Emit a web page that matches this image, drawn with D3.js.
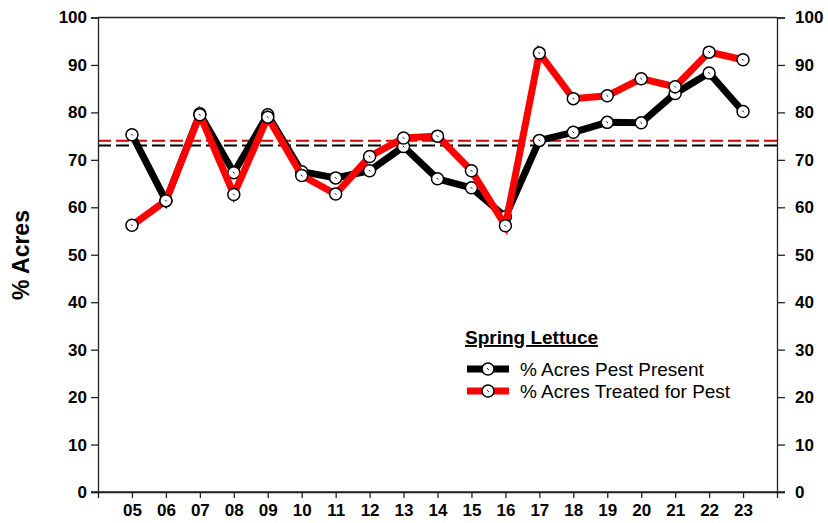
<!DOCTYPE html>
<html>
<head>
<meta charset="utf-8">
<script src="https://cdn.jsdelivr.net/npm/d3@7"></script>
<style>
  body { margin: 0; background: #fff; }
  text { font-family: "Liberation Sans", Arial, sans-serif; }
</style>
</head>
<body>
<div class="container"></div>
<script>
"use strict";

// years shown on the x axis
const years = ["05","06","07","08","09","10","11","12","13","14","15","16","17","18","19","20","21","22","23"]
const yTicks = [0,10,20,30,40,50,60,70,80,90,100]

// % acres with pest present (black)
const pestPresent = [75.3,61.4,79.7,67.3,79.5,67.5,66.2,67.7,72.8,66.0,64.1,58.0,74.1,75.8,77.9,77.8,84.0,88.3,80.2]
// % acres treated for pest (red)
const treated = [56.2,61.4,79.5,62.7,79.0,66.7,62.8,70.7,74.6,75.0,67.7,56.1,92.5,82.9,83.5,87.1,85.4,92.7,91.1]

// dashed average lines
const avgPresent = 73.0
const avgTreated = 74.0

const legendTitle = "Spring Lettuce"
const seriesNames = ["% Acres Pest Present", "% Acres Treated for Pest"]

const p = {
	width: 828,
	height: 523,
	left: 98,
	right: 777,
	top: 17.5,
	bottom: 492
}

const svg = d3.select('.container')
	.append('svg')
	.attr('width', p.width)
	.attr('height', p.height)

//x is numeric so 05 sits one step in from the left axis
const x = d3.scaleLinear().domain([0, years.length + 1]).range([p.left, p.right])
const y = d3.scaleLinear().domain([0, 100]).range([p.bottom, p.top])

//dashed average lines
const avgs = [{v: avgPresent, c: 'black'}, {v: avgTreated, c: '#d40000'}]
svg.selectAll('.avg').data(avgs).enter()
	.append('line')
	.attr('x1', p.left).attr('x2', p.right)
	.attr('y1', d => y(d.v)).attr('y2', d => y(d.v))
	.attr('stroke', d => d.c)
	.attr('stroke-width', 2)
	.attr('stroke-dasharray', '13,5')

//top border
svg.append('line')
	.attr('x1', p.left).attr('x2', p.right)
	.attr('y1', p.top).attr('y2', p.top)
	.attr('stroke', '#222').attr('stroke-width', 1.3)

//left axis
const gl = svg.append('g')
	.attr('transform', `translate(${p.left},0)`)
	.call(d3.axisLeft(y).tickValues(yTicks).tickSize(7).tickPadding(4).tickFormat(d3.format('d')))
//right axis
const gr = svg.append('g')
	.attr('transform', `translate(${p.right},0)`)
	.call(d3.axisRight(y).tickValues(yTicks).tickSize(8).tickPadding(10).tickFormat(d3.format('d')))
//bottom axis
const gb = svg.append('g')
	.attr('transform', `translate(0,${p.bottom})`)
	.call(d3.axisBottom(x).tickValues(d3.range(1, years.length + 1)).tickSize(6).tickPadding(6).tickFormat(d => years[d - 1]))

//bottom line runs under the outer 0 ticks on both sides
svg.append('line')
	.attr('x1', p.left - 7).attr('x2', p.right + 8)
	.attr('y1', p.bottom).attr('y2', p.bottom)
	.attr('stroke', '#222').attr('stroke-width', 1.3)

;[gl, gr, gb].forEach(function(g) {
	g.select('.domain').attr('stroke', '#222').attr('stroke-width', 1.3)
	g.selectAll('.tick line').attr('stroke', '#222').attr('stroke-width', 1.3)
	g.selectAll('text')
		.attr('fill', '#000')
		.style('font-size', '17px')
		.style('font-weight', 'bold')
		.style('font-family', '"Liberation Sans", Arial, sans-serif')
})

//y title
svg.append('text')
	.attr('transform', 'translate(29,255) rotate(-90)')
	.attr('text-anchor', 'middle')
	.style('font-size', '23px')
	.style('font-weight', 'bold')
	.text('% Acres')

const line = d3.line().x((d, i) => x(i + 1)).y(d => y(d))

function drawMarkers(g, cx, cy) {
	g.append('circle')
		.attr('cx', cx).attr('cy', cy).attr('r', 6)
		.attr('fill', 'white').attr('stroke', 'black').attr('stroke-width', 1.5)
	g.append('line')
		.attr('x1', cx - 0.8).attr('y1', cy - 0.8)
		.attr('x2', cx + 0.8).attr('y2', cy + 0.8)
		.attr('stroke', 'black').attr('stroke-width', 1)
}

function drawSeries(values, color) {
	svg.append('path')
		.datum(values)
		.attr('d', line)
		.attr('fill', 'none')
		.attr('stroke', color)
		.attr('stroke-width', 7)
		.attr('stroke-linejoin', 'miter')
	const g = svg.append('g')
	values.forEach(function(v, i) {
		drawMarkers(g, x(i + 1), y(v))
	})
}

drawSeries(pestPresent, 'black')
drawSeries(treated, '#ff0000')

//legend
const lg = svg.append('g')
lg.append('text')
	.attr('x', 465).attr('y', 344)
	.style('font-size', '19px')
	.style('font-weight', 'bold')
	.style('text-decoration', 'underline')
	.text(legendTitle)

const colors = ['black', '#ff0000']
seriesNames.forEach(function(name, i) {
	const ly = 369 + i * 22
	lg.append('line')
		.attr('x1', 467).attr('x2', 509)
		.attr('y1', ly).attr('y2', ly)
		.attr('stroke', colors[i]).attr('stroke-width', 7)
	drawMarkers(lg, 488, ly)
	lg.append('text')
		.attr('x', 520).attr('y', ly + 7)
		.style('font-size', '19px')
		.text(name)
})
</script>
</body>
</html>
